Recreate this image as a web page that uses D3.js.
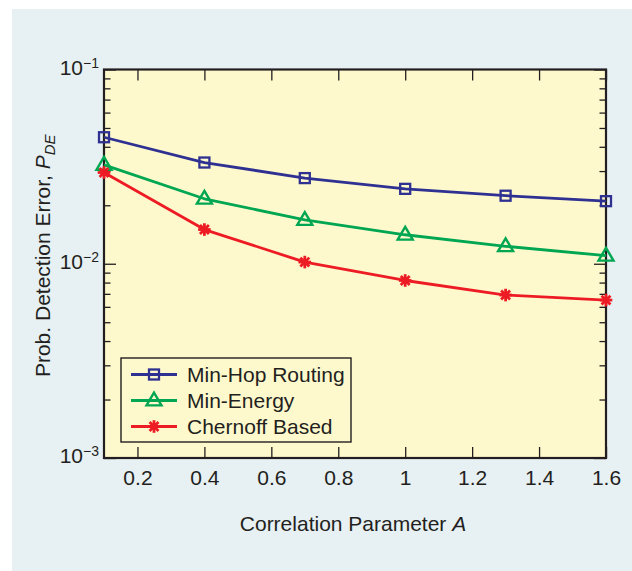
<!DOCTYPE html>
<html>
<head>
<meta charset="utf-8">
<script src="https://cdn.jsdelivr.net/npm/d3@7"></script>
<style>
  html, body { margin: 0; padding: 0; background: #ffffff; }
  svg { display: block; font-family: "Liberation Sans", Arial, Helvetica, sans-serif; }
</style>
</head>
<body>
<svg id="chart" width="632" height="571"></svg>
<script>
// ---------- data ----------
const xValues = [0.1, 0.4, 0.7, 1.0, 1.3, 1.6];
const minHop = [0.0448, 0.0332, 0.0276, 0.0243, 0.0224, 0.0210];
const minEnergy = [0.0323, 0.0216, 0.0168, 0.0141, 0.0123, 0.0110];
const chernoff = [0.0295, 0.0150, 0.0102, 0.0082, 0.0069, 0.0065];
const seriesNames = ["Min-Hop Routing", "Min-Energy", "Chernoff Based"];
const xTicks = [0.2, 0.4, 0.6, 0.8, 1.0, 1.2, 1.4, 1.6];
const yMajorExponents = [-1, -2, -3];
const xTitle = "Correlation Parameter ";
const yTitle = "Prob. Detection Error, ";

// ---------- layout ----------
const svg = d3.select("#chart");
const W = 632, H = 571;
const L = 104, R = 606, T = 69.5, B = 458;
const ink = "#231f20";
const colors = ["#2e3192", "#00a651", "#ed1c24"];
const fs = 21;

svg.append("rect").attr("x", 12).attr("y", 9).attr("width", W - 12).attr("height", H - 9)
  .attr("fill", "#e7f0f2");
svg.append("rect").attr("x", L).attr("y", T).attr("width", R - L).attr("height", B - T)
  .attr("fill", "#fef9cd");

const x = d3.scaleLinear().domain([0.1, 1.6]).range([L, R]);
const y = d3.scaleLog().domain([1e-3, 1e-1]).range([B, T]);

// minor log ticks
const minorTicks = [];
[-3, -2].forEach(e => { for (let k = 2; k <= 9; k++) minorTicks.push(k * Math.pow(10, e)); });
const majorTicks = yMajorExponents.map(e => Math.pow(10, e));

function styleAxis(g) {
  g.select(".domain").remove();
  g.selectAll(".tick line").attr("stroke", ink).attr("stroke-width", 1.3);
  g.selectAll(".tick text").attr("fill", ink).attr("font-size", fs)
    .attr("font-family", "Liberation Sans, Arial, sans-serif");
}

// bottom axis
svg.append("g").attr("transform", `translate(0,${B})`)
  .call(d3.axisBottom(x).tickValues(xTicks).tickSize(-11).tickPadding(12)
    .tickFormat(d => d3.format("")(+d.toFixed(1))))
  .call(styleAxis);
// top axis
svg.append("g").attr("transform", `translate(0,${T})`)
  .call(d3.axisTop(x).tickValues(xTicks).tickSize(-11).tickFormat(""))
  .call(styleAxis);
// left minor / major
svg.append("g").attr("transform", `translate(${L},0)`)
  .call(d3.axisLeft(y).tickValues(minorTicks).tickSize(-6.5).tickFormat(""))
  .call(styleAxis);
svg.append("g").attr("transform", `translate(${L},0)`)
  .call(d3.axisLeft(y).tickValues(majorTicks).tickSize(-12).tickFormat(""))
  .call(styleAxis);
// right minor / major
svg.append("g").attr("transform", `translate(${R},0)`)
  .call(d3.axisRight(y).tickValues(minorTicks).tickSize(-6.5).tickFormat(""))
  .call(styleAxis);
svg.append("g").attr("transform", `translate(${R},0)`)
  .call(d3.axisRight(y).tickValues(majorTicks).tickSize(-12).tickFormat(""))
  .call(styleAxis);

// y tick labels 10^e
yMajorExponents.forEach(e => {
  const yy = y(Math.pow(10, e));
  const t = svg.append("text").attr("x", 99).attr("y", yy + 5)
    .attr("text-anchor", "end").attr("fill", ink).attr("font-size", fs);
  t.append("tspan").text("10");
  t.append("tspan").attr("font-size", 14).attr("dy", -7).text("\u2212" + Math.abs(e));
});

// frame
svg.append("rect").attr("x", L).attr("y", T).attr("width", R - L).attr("height", B - T)
  .attr("fill", "none").attr("stroke", ink).attr("stroke-width", 2.2);

// ---------- series ----------
const allSeries = [minHop, minEnergy, chernoff];
const line = d3.line().x(d => x(d[0])).y(d => y(d[1]));

function drawMarker(g, type, cx, cy, color) {
  if (type === 0) {
    g.append("rect").attr("x", cx - 5).attr("y", cy - 5).attr("width", 10).attr("height", 10)
      .attr("fill", "none").attr("stroke", color).attr("stroke-width", 2.3);
  } else if (type === 1) {
    const s = 7.5;
    g.append("path")
      .attr("d", `M${cx},${cy - s * 1.05} L${cx + s},${cy + s * 0.65} L${cx - s},${cy + s * 0.65} Z`)
      .attr("fill", "none").attr("stroke", color).attr("stroke-width", 2.4)
      .attr("stroke-linejoin", "miter");
  } else {
    const r = 6.3;
    for (let k = 0; k < 4; k++) {
      const a = k * Math.PI / 4;
      g.append("line")
        .attr("x1", cx - r * Math.cos(a)).attr("y1", cy - r * Math.sin(a))
        .attr("x2", cx + r * Math.cos(a)).attr("y2", cy + r * Math.sin(a))
        .attr("stroke", color).attr("stroke-width", 2.8);
    }
    g.append("circle").attr("cx", cx).attr("cy", cy).attr("r", 3.3).attr("fill", color);
  }
}

allSeries.forEach((vals, i) => {
  const pts = xValues.map((xv, j) => [xv, vals[j]]);
  svg.append("path").datum(pts).attr("d", line)
    .attr("fill", "none").attr("stroke", colors[i]).attr("stroke-width", 2.8)
    .attr("stroke-linejoin", "round");
  const g = svg.append("g");
  pts.forEach(p => drawMarker(g, i, x(p[0]), y(p[1]), colors[i]));
});

// ---------- legend ----------
const lg = svg.append("g");
lg.append("rect").attr("x", 121).attr("y", 358).attr("width", 230).attr("height", 84)
  .attr("fill", "#fef9cd").attr("stroke", ink).attr("stroke-width", 1.4);
seriesNames.forEach((name, i) => {
  const ly = 374.5 + i * 26;
  lg.append("line").attr("x1", 131).attr("x2", 177).attr("y1", ly).attr("y2", ly)
    .attr("stroke", colors[i]).attr("stroke-width", 2.8);
  drawMarker(lg, i, 154, ly, colors[i]);
  lg.append("text").attr("x", 187).attr("y", ly + 7.5).attr("fill", ink)
    .attr("font-size", fs).text(name);
});

// ---------- axis titles ----------
const xt = svg.append("text").attr("x", (L + R) / 2 - 2).attr("y", 531)
  .attr("text-anchor", "middle").attr("fill", ink).attr("font-size", fs);
xt.append("tspan").text(xTitle);
xt.append("tspan").attr("font-style", "italic").text("A");

const yt = svg.append("text").attr("transform", `translate(50,${(T + B) / 2 - 8}) rotate(-90)`)
  .attr("text-anchor", "middle").attr("fill", ink).attr("font-size", fs);
yt.append("tspan").text(yTitle);
yt.append("tspan").attr("font-style", "italic").text("P");
yt.append("tspan").attr("font-style", "italic").attr("font-size", 15).attr("dy", 5).text("DE");
</script>
</body>
</html>
